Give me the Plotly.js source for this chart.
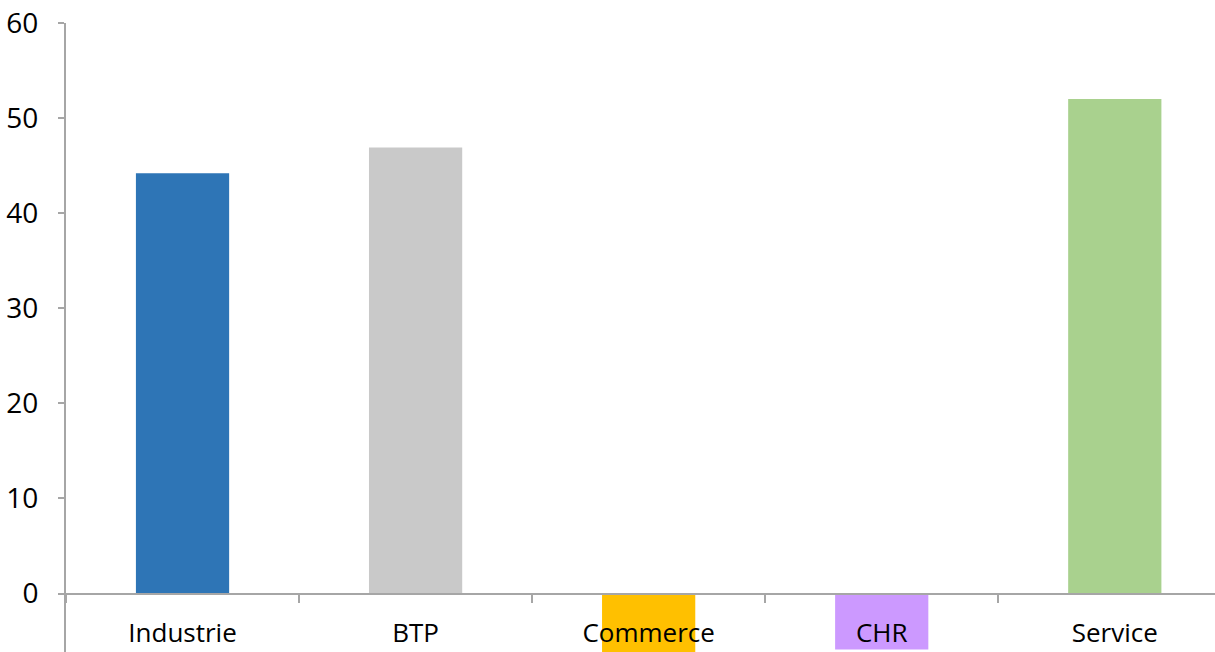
<!DOCTYPE html>
<html>
<head>
<meta charset="utf-8">
<script src="https://cdn.plot.ly/plotly-3.0.1.min.js"></script>
<style>html,body{margin:0;padding:0;background:#fff;}#chart{width:1215px;height:652px;}</style>
</head>
<body>
<div id="chart"></div>
<script>
const categories = ["Industrie", "BTP", "Commerce", "CHR", "Service"];
const values = [44.2, 46.9, -6.5, -5.9, 52.0];
const barColors = ["#2e75b6", "#c9c9c9", "#ffc000", "#cc99ff", "#a9d18e"];
const yTickValues = [0, 10, 20, 30, 40, 50, 60];

const yMin = -6.15, yMax = 60;
const family = "'Open Sans', sans-serif";

const data = [{
  type: "bar",
  x: categories,
  y: values,
  marker: {color: barColors, line: {width: 0}},
  hoverinfo: "x+y"
}];

const layout = {
  width: 1215, height: 652,
  margin: {l: 66, r: 0, t: 23, b: 0, pad: 0},
  paper_bgcolor: "#fff", plot_bgcolor: "#fff",
  showlegend: false,
  bargap: 0.6,
  font: {family: family, size: 26, color: "#000"},
  xaxis: {
    type: "category",
    range: [-0.5, 4.43],
    anchor: "free",
    position: (0 - yMin) / (yMax - yMin),
    showline: true, linecolor: "#a6a6a6", linewidth: 2,
    showgrid: false, zeroline: false,
    ticks: "outside", tickson: "boundaries", ticklen: 8, tickcolor: "#a6a6a6", tickwidth: 2,
    tickfont: {family: family, size: 26, color: "#000"},
    ticklabelstandoff: 16,
    automargin: false
  },
  yaxis: {
    range: [yMin, yMax],
    tickvals: yTickValues,
    ticktext: yTickValues.map(String),
    showline: true, linecolor: "#a6a6a6", linewidth: 2,
    showgrid: false, zeroline: false,
    ticks: "outside", ticklen: 6, tickcolor: "#a6a6a6", tickwidth: 2,
    tickfont: {family: family, size: 28, color: "#000"},
    ticklabelstandoff: 14,
    automargin: false
  }
};

Plotly.newPlot("chart", data, layout, {displayModeBar: false, staticPlot: true});
</script>
</body>
</html>
